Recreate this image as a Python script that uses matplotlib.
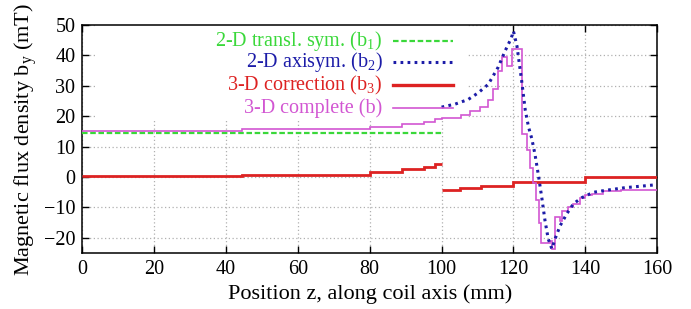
"""Magnetic flux density b_y along the coil axis: 2-D, 3-D correction and complete."""

import matplotlib

matplotlib.use("Agg")
import matplotlib.pyplot as plt
from matplotlib.patches import Rectangle

GREEN = "#3ad83a"
BLUE = "#1c1ca8"
RED = "#dd2222"
MAGENTA = "#d256d2"

# b1: 2-D translational symmetry (straight part, 0..100 mm)
b1_z = [0, 100]
b1_val = [14.4, 14.4]

# b2: 2-D axisymmetric (coil end, 100..160 mm)
b2_z = [100, 103.8, 107.4, 110.2, 113, 115.7, 117.7, 119.4, 120, 121, 122.3,
        123.3, 124.2, 125.1, 126, 126.9, 127.9, 128.8, 129.7, 130.7, 131.6,
        133, 134.9, 136.7, 139, 142.3, 145.5, 151, 160]
b2_val = [23, 24, 25.5, 27.7, 30.5, 36, 41.5, 45.7, 48, 43, 31.6,
          22, 16.5, 12.7, 7.5, 1, -6.8, -14.4, -20.4, -23.6, -20.3,
          -16, -12, -8.8, -6.8, -5, -4.4, -3.5, -2.5]

# b3: 3-D correction, stepwise (two pieces)
b3_left_edges = [0, 44.5, 80, 89, 95, 98.2, 100]
b3_left_val = [0.2, 0.8, 1.8, 2.7, 3.4, 4.3]
b3_right_edges = [100, 105, 111, 120, 140, 160]
b3_right_val = [-4.2, -3.5, -2.8, -1.5, 0.0]

# b: 3-D complete, stepwise
b_edges = [0, 44.5, 80, 89, 95, 98.2, 100, 105.4, 108, 110.7, 113, 114.4,
           115.8, 116.8, 118.1, 119.5, 122.5, 123.8, 124.6, 125.4, 126.2,
           127.0, 127.8, 130.2, 130.8, 131.6, 133.0, 133.6, 135.2, 136.6,
           138.4, 139.8, 142, 145, 150, 160]
b_val = [15.2, 15.8, 16.6, 17.4, 18.2, 19.2, 19.5, 20.4, 21.8, 23.1, 25.5,
         28.8, 35, 39.5, 36.5, 42, 14, 9, 3, -2, -7.5,
         -15, -21.8, -21, -23.8, -13, -14.5, -11, -10, -8.8,
         -7, -6, -5.5, -4.7, -4.2]

legend_labels = ["2-D transl. sym. (b$_\\mathregular{1}$)",
                 "2-D axisym. (b$_\\mathregular{2}$)",
                 "3-D correction (b$_\\mathregular{3}$)",
                 "3-D complete (b)"]

plt.rcParams["font.family"] = ["Liberation Serif", "DejaVu Serif"]
plt.rcParams["mathtext.fontset"] = "custom"
plt.rcParams["mathtext.rm"] = "Liberation Serif"

fig = plt.figure(figsize=(6.91, 3.09), dpi=100)
ax = fig.add_axes([0.119, 0.181, 0.832, 0.738])

ax.set_axisbelow(True)
ax.grid(True, color="#b0b0b0", linestyle=(0, (1, 2)), linewidth=0.9)

# opaque legend area hides the grid behind it
ax.add_patch(Rectangle((0.025, 0.587), 0.645, 0.413, transform=ax.transAxes,
                       facecolor="white", edgecolor="none", zorder=1))

green_ls = (0, (2.5, 1.2))
blue_ls = (0, (0.9, 1.4))

ax.plot(b1_z, b1_val, color=GREEN, lw=1.6, linestyle=green_ls, zorder=3)
ax.plot(b2_z, b2_val, color=BLUE, lw=2.2, linestyle=blue_ls, zorder=4)
ax.stairs(b3_left_val, b3_left_edges, baseline=None, color=RED, lw=2.0, zorder=3)
ax.stairs(b3_right_val, b3_right_edges, baseline=None, color=RED, lw=2.0, zorder=3)
ax.stairs(b_val, b_edges, baseline=None, color=MAGENTA, lw=1.2, zorder=3)

# gnuplot-like key: coloured text, sample line on the right
styles = [(GREEN, green_ls, 1.6), (BLUE, blue_ls, 2.2),
          (RED, "-", 2.4), (MAGENTA, "-", 1.2)]
rows = [0.932, 0.836, 0.735, 0.636]
for label, (col, ls, lw), yr in zip(legend_labels, styles, rows):
    ax.text(0.522, yr, label, transform=ax.transAxes, ha="right", va="center",
            color=col, fontsize=14.5, zorder=5)
    ax.plot([0.541, 0.645], [yr, yr], transform=ax.transAxes, color=col,
            linestyle=ls, lw=lw, zorder=5)

ax.set_xlim(0, 160)
ax.set_ylim(-25, 50)
ax.set_xticks(range(0, 161, 20))
ax.set_yticks(range(-20, 51, 10))
ax.tick_params(direction="in", length=5, width=1.0, top=True, right=True,
               labelsize=14.5, pad=5)
for s in ax.spines.values():
    s.set_linewidth(1.1)

ax.set_xlabel("Position z, along coil axis (mm)", fontsize=16, labelpad=4)
ax.set_ylabel("Magnetic flux density b$_\\mathregular{y}$ (mT)", fontsize=16,
              labelpad=3)

fig.savefig("out.png", dpi=100)
